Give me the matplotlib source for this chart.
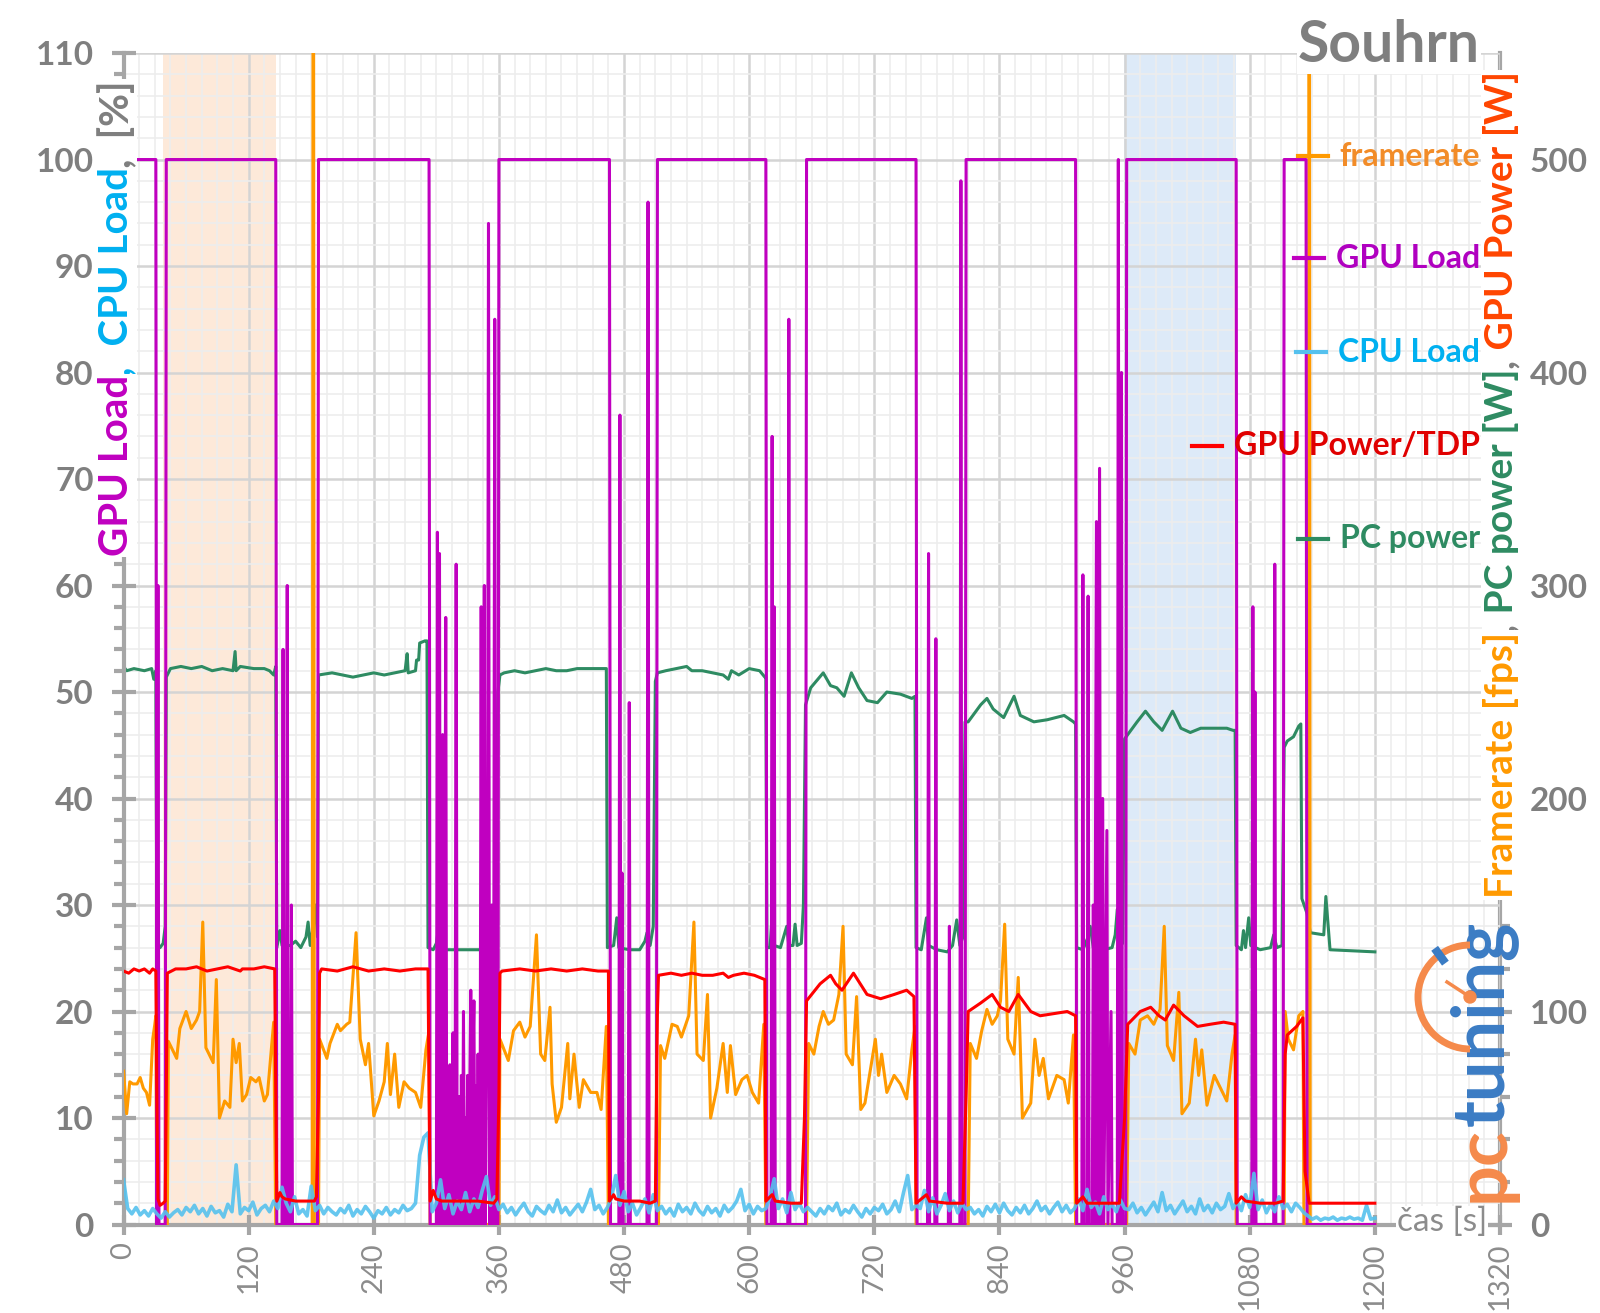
import numpy as np
import matplotlib
matplotlib.use("Agg")
import matplotlib.pyplot as plt
from matplotlib.ticker import MultipleLocator
from matplotlib.text import Annotation
from matplotlib.lines import Line2D
from matplotlib.patches import Arc, Circle

plt.rcParams['font.family'] = ['Lato', 'DejaVu Sans']

# ---------------------------------------------------------------- data
# GPU load [%]  (time [s], value)
gpu_load = [
    (0, 100), (31, 100), (32, 0), (33, 60), (34, 0), (40, 0), (41, 100),
    (146, 100), (147, 0), (152, 0), (153, 54), (154, 0), (156, 0), (157, 60), (158, 0),
    (160, 0), (161, 30), (162, 0), (186, 0), (187, 100),
    (293, 100), (294, 0), (300, 0), (301, 65), (302, 0), (303, 63), (304, 0), (305, 12), (306, 46),
    (307, 0), (308, 22), (309, 57), (310, 0), (311, 10), (312, 0), (313, 15), (314, 0), (315, 8),
    (316, 18), (317, 0), (318, 11), (319, 62), (320, 0), (321, 9), (322, 12), (323, 0), (324, 14),
    (325, 0), (326, 20), (327, 0), (328, 10), (329, 0), (330, 14), (331, 0), (332, 12), (333, 22),
    (334, 0), (335, 15), (336, 21), (337, 0), (338, 13), (339, 0), (340, 16), (341, 0), (342, 11),
    (343, 58), (344, 0), (345, 18), (346, 60), (347, 0), (348, 14), (349, 25), (350, 94), (351, 0),
    (352, 16), (353, 30), (354, 0), (355, 20), (356, 85), (357, 0), (359, 0), (360, 100),
    (466, 100), (467, 0), (475, 0), (476, 76), (477, 0), (478, 33), (479, 0), (484, 0), (485, 49),
    (486, 0), (502, 0), (503, 96), (504, 0), (511, 0), (512, 100),
    (616, 100), (617, 0), (621, 0), (622, 74), (623, 0), (624, 58), (625, 0), (637, 0), (638, 85),
    (639, 0), (654, 0), (655, 100),
    (760, 100), (761, 0), (771, 0), (772, 63), (773, 0), (778, 0), (779, 55), (780, 0), (791, 0),
    (792, 28), (793, 0), (802, 0), (803, 98), (804, 0), (807, 0), (808, 100),
    (913, 100), (914, 0), (919, 0), (920, 61), (921, 0), (924, 0), (925, 59), (926, 0), (929, 0),
    (930, 30), (931, 0), (933, 66), (934, 0), (936, 71), (937, 0), (939, 40), (940, 0), (943, 37),
    (944, 0), (947, 20), (948, 0), (953, 0), (954, 100), (955, 0), (956, 0), (957, 80), (958, 0),
    (961, 0), (962, 100),
    (1067, 100), (1068, 0), (1082, 0), (1083, 58), (1084, 0), (1085, 50), (1086, 0), (1103, 0),
    (1104, 62), (1105, 0), (1112, 0), (1113, 100), (1134, 100), (1135, 0), (1200, 0),
]

# CPU load [%], one sample every 4 s from 0 to 1200 s
cpu_step = 4
cpu_load = [
    4.2, 1.5, 1.0, 1.6, 0.9, 1.3, 0.8, 1.5, 1.0, 0.6,
    1.2, 0.7, 1.1, 1.4, 0.9, 1.6, 1.2, 1.8, 1.0, 1.5,
    0.8, 1.7, 1.1, 1.3, 0.7, 1.9, 1.2, 5.6, 1.0, 1.6,
    1.3, 2.1, 0.9, 1.5, 1.8, 1.2, 2.2, 1.5, 3.5, 2.0,
    1.2, 2.6, 1.0, 1.4, 0.8, 3.6, 1.3, 1.8, 1.0, 1.6,
    1.2, 0.9, 1.5, 1.1, 1.8, 0.8, 1.4, 1.0, 1.7, 1.2,
    0.6, 1.3, 1.0, 1.6, 0.9, 1.4, 1.1, 1.8, 1.3, 1.5,
    2.0, 6.5, 8.2, 8.6, 1.2, 2.0, 4.2, 1.5, 2.8, 1.0,
    2.2, 1.4, 3.0, 1.2, 2.4, 1.6, 3.2, 4.5, 1.8, 2.6,
    1.4, 1.9, 1.1, 1.6, 0.9, 1.5, 2.0, 1.2, 0.8, 1.7,
    1.3, 1.0, 1.8, 1.2, 2.3, 1.1, 1.6, 0.9, 1.4, 1.9,
    1.2, 2.1, 3.3, 1.4, 1.8, 1.0, 1.6, 2.5, 4.6, 1.8,
    3.1, 1.2, 2.0, 0.9, 1.6, 2.4, 1.1, 2.8, 1.3, 1.7,
    1.0, 1.5, 0.8, 1.9, 1.2, 1.6, 1.0, 2.0, 1.3, 0.9,
    1.7, 1.1, 1.5, 0.8, 1.8, 1.2, 1.6, 2.2, 3.3, 1.3,
    1.9, 1.0, 1.7, 1.3, 1.5, 2.6, 4.3, 1.5, 2.4, 1.1,
    3.0, 1.4, 2.0, 1.2, 1.6, 1.2, 0.8, 1.5, 1.0, 1.7,
    1.3, 2.0, 0.9, 1.4, 1.1, 1.8, 1.2, 0.7, 1.5, 1.0,
    1.6, 1.3, 1.9, 1.0, 1.4, 2.2, 1.2, 3.0, 4.6, 1.4,
    1.8, 1.5, 3.2, 1.2, 2.5, 1.0, 1.8, 2.9, 1.3, 2.2,
    1.1, 2.0, 1.4, 1.6, 1.0, 1.4, 0.8, 1.7, 1.2, 1.9,
    1.1, 2.0, 1.3, 0.9, 1.6, 1.1, 1.8, 1.0, 1.5, 2.2,
    1.3, 1.7, 1.0, 1.6, 2.1, 1.2, 1.8, 1.1, 1.5, 2.4,
    1.3, 3.3, 1.6, 2.1, 1.0, 2.6, 1.4, 1.9, 1.2, 2.3,
    1.5, 1.4, 2.0, 1.1, 1.6, 0.9, 1.5, 2.1, 1.2, 3.0,
    1.3, 1.8, 1.0, 1.6, 2.2, 1.2, 1.7, 1.0, 2.4, 1.3,
    1.8, 1.1, 2.0, 1.4, 1.7, 2.9, 1.5, 2.2, 1.3, 2.8,
    1.6, 4.8, 1.4, 2.3, 1.1, 1.9, 1.2, 2.6, 1.5, 1.9,
    1.2, 2.0, 1.6, 1.1, 0.8, 0.5, 0.7, 0.4, 0.6, 0.5,
    0.7, 0.4, 0.6, 0.5, 0.7, 0.5, 0.6, 0.4, 1.8, 0.5,
    0.6,
]

# GPU power [W]
gpu_power = [
    (0, 119), (5, 118), (10, 120), (15, 119), (20, 120), (25, 118), (28, 120), (31, 119),
    (32, 60), (33, 12), (35, 9), (38, 10), (40, 11), (41, 60), (42, 118),
    (50, 120), (60, 120), (70, 121), (80, 119), (90, 120), (100, 121), (112, 119), (114, 120),
    (125, 120), (135, 121), (145, 120), (146, 60), (147, 11),
    (150, 15), (152, 13), (155, 12), (165, 11), (175, 11), (183, 11), (185, 13), (187, 60), (188, 118),
    (190, 120), (205, 119), (220, 121), (235, 119), (250, 120), (265, 119), (280, 120), (292, 120),
    (293, 60), (294, 11),
    (297, 16), (300, 12), (305, 11), (320, 11), (340, 11), (355, 10), (358, 12), (360, 60), (361, 118),
    (363, 119), (380, 120), (395, 119), (410, 120), (425, 119), (440, 120), (455, 119), (465, 119),
    (466, 11),
    (470, 14), (472, 12), (480, 11), (495, 11), (505, 10), (510, 11), (512, 100), (513, 117),
    (525, 118), (535, 117), (545, 118), (555, 117), (565, 117), (575, 118), (580, 116), (585, 117),
    (595, 118), (605, 117), (615, 115), (616, 11),
    (622, 14), (625, 11), (640, 10), (650, 10), (653, 50), (655, 105),
    (668, 113), (678, 117), (683, 113), (689, 110), (700, 118), (713, 108), (726, 106), (739, 108),
    (751, 110), (758, 107), (760, 10),
    (770, 14), (773, 11), (790, 10), (805, 10), (808, 60), (810, 100),
    (822, 104), (833, 108), (841, 102), (849, 100), (858, 108), (870, 100), (879, 98), (892, 99),
    (905, 100), (913, 98), (914, 10),
    (920, 13), (924, 10), (940, 10), (955, 10), (960, 50), (963, 94),
    (975, 100), (985, 102), (993, 98), (999, 96), (1007, 103), (1017, 98), (1030, 93), (1042, 94),
    (1055, 95), (1066, 94), (1067, 10),
    (1072, 13), (1076, 11), (1090, 10), (1105, 10), (1112, 11), (1114, 80), (1116, 89),
    (1125, 93), (1131, 97), (1133, 25), (1137, 10), (1200, 10),
]

# PC power [W]
pc_power = [
    (0, 262), (3, 260), (10, 261), (20, 260), (27, 261), (29, 256), (31, 260), (32, 130), (35, 130),
    (38, 132), (40, 140), (41, 257),
    (45, 261), (55, 262), (65, 261), (75, 262), (85, 260), (95, 261), (105, 260), (107, 269),
    (108, 260), (112, 262), (125, 261), (135, 261), (140, 260), (144, 258), (146, 262), (147, 130),
    (150, 138), (152, 131), (160, 131), (165, 133), (170, 130), (175, 135), (177, 142), (179, 131),
    (182, 140), (184, 150), (186, 135), (187, 258),
    (200, 259), (210, 258), (220, 257), (230, 258), (240, 259), (250, 258), (260, 259), (270, 260),
    (272, 268), (273, 259), (280, 260), (281, 265), (283, 265), (284, 273), (289, 274), (291, 274),
    (292, 130),
    (297, 129), (300, 132), (302, 139), (304, 131), (310, 129), (330, 129), (345, 129), (349, 132),
    (351, 137), (353, 131), (356, 133), (359, 250), (361, 258),
    (365, 259), (375, 260), (385, 259), (395, 260), (405, 261), (415, 260), (425, 260), (435, 261),
    (445, 261), (455, 261), (463, 261), (464, 130),
    (470, 131), (473, 144), (475, 130), (485, 129), (495, 129), (500, 133), (502, 137), (505, 131),
    (508, 140), (510, 255), (512, 259),
    (520, 260), (530, 261), (540, 262), (545, 260), (555, 260), (565, 259), (575, 258), (580, 256),
    (583, 260), (590, 258), (600, 261), (610, 260), (615, 257), (616, 257), (617, 130),
    (620, 130), (622, 145), (624, 131), (630, 130), (636, 140), (638, 131), (642, 131), (644, 141),
    (646, 131), (650, 132), (652, 150), (654, 244),
    (659, 252), (671, 259), (678, 253), (684, 252), (691, 248), (698, 259), (705, 252), (713, 246),
    (723, 245), (732, 250), (745, 249), (756, 247), (759, 248), (760, 130),
    (765, 129), (770, 144), (772, 131), (780, 129), (790, 128), (795, 131), (799, 143), (802, 131),
    (805, 135), (807, 236),
    (810, 236), (822, 244), (828, 247), (834, 242), (844, 238), (854, 248), (860, 239), (873, 236),
    (886, 237), (902, 239), (911, 236), (913, 235), (914, 130),
    (920, 129), (925, 135), (927, 140), (930, 130), (940, 129), (948, 130), (951, 136), (953, 148),
    (955, 130), (958, 132), (960, 228),
    (966, 232), (972, 236), (980, 241), (988, 236), (996, 232), (1006, 241), (1014, 233), (1023, 231),
    (1033, 233), (1046, 233), (1058, 233), (1064, 232), (1066, 232), (1067, 131),
    (1072, 129), (1074, 138), (1076, 130), (1079, 144), (1081, 131), (1090, 129), (1100, 130),
    (1103, 136), (1106, 130), (1111, 131), (1113, 224),
    (1116, 227), (1122, 229), (1127, 234), (1129, 235), (1130, 153), (1135, 146), (1138, 137),
    (1151, 136), (1153, 154), (1157, 129), (1200, 128),
]

# framerate [fps]
framerate = [
    (0, 72), (3, 52), (6, 67), (9, 66), (13, 66), (16, 69), (19, 64), (22, 62), (25, 56), (28, 87),
    (30, 94), (31, 98), (32, 0), (42, 0),
    (43, 86), (51, 78), (54, 92), (60, 100), (65, 92), (70, 96), (73, 100), (76, 142), (79, 83),
    (86, 76), (89, 115), (92, 50), (97, 58), (102, 55), (105, 87), (108, 76), (111, 85), (114, 58),
    (118, 61), (122, 69), (127, 67), (130, 69), (135, 58), (138, 61), (142, 84), (144, 95), (146, 0),
    (181, 0), (182, 800), (183, 0), (187, 0),
    (188, 87), (195, 78), (198, 85), (205, 94), (208, 91), (214, 94), (217, 95), (223, 137), (227, 87),
    (232, 75), (235, 85), (240, 51), (245, 58), (250, 67), (253, 85), (256, 61), (260, 80), (264, 55),
    (269, 67), (274, 64), (280, 62), (285, 55), (290, 82), (293, 91), (294, 0), (360, 0),
    (361, 87), (369, 77), (374, 91), (380, 95), (385, 88), (390, 93), (396, 136), (400, 80), (404, 77),
    (409, 102), (411, 66), (415, 48), (420, 55), (426, 85), (428, 59), (432, 80), (437, 55), (441, 68),
    (448, 62), (454, 62), (458, 54), (463, 93), (465, 0), (513, 0),
    (515, 84), (519, 78), (526, 94), (531, 93), (535, 88), (542, 98), (547, 142), (550, 80), (556, 77),
    (560, 108), (563, 50), (569, 64), (575, 85), (579, 62), (582, 84), (587, 61), (593, 68), (598, 70),
    (603, 62), (609, 57), (614, 94), (616, 0), (655, 0),
    (657, 85), (662, 80), (667, 93), (671, 100), (676, 94), (681, 96), (686, 108), (690, 140), (693, 80),
    (699, 75), (703, 107), (707, 54), (711, 57), (721, 87), (724, 70), (727, 80), (732, 62), (739, 70),
    (745, 66), (751, 59), (756, 82), (759, 93), (760, 0), (810, 0),
    (812, 85), (818, 78), (823, 91), (828, 101), (833, 94), (838, 98), (841, 105), (845, 141), (848, 87),
    (854, 80), (858, 116), (862, 50), (870, 57), (874, 87), (878, 70), (882, 78), (887, 59), (895, 70),
    (902, 68), (906, 57), (911, 89), (913, 0), (962, 0),
    (964, 85), (970, 80), (975, 96), (982, 98), (988, 94), (994, 101), (998, 140), (1001, 84),
    (1007, 77), (1012, 109), (1015, 52), (1022, 57), (1028, 87), (1031, 70), (1034, 82), (1039, 56),
    (1046, 70), (1052, 64), (1058, 58), (1063, 80), (1066, 89), (1067, 0), (1113, 0),
    (1114, 100), (1117, 87), (1122, 82), (1127, 98), (1131, 100), (1132, 0), (1136, 0), (1137, 800),
    (1138, 0), (1200, 0),
]

# highlighted time ranges [s]
orange_span = (38, 146)
blue_span = (959, 1067)

x_major = list(range(0, 1321, 120))
left_ticks = list(range(0, 111, 10))
right_ticks = list(range(0, 501, 100))

# ---------------------------------------------------------------- colours
GRAY = '#7f7f7f'
AXIS = '#a6a6a6'
C_GPU = '#c000c0'
C_CPU = '#55c1ee'
C_GPUPOW = '#ff0000'
C_PC = '#2e8b62'
C_FPS = '#ff9a00'

W = 5.0  # right axis = left axis * 5

fig = plt.figure(figsize=(16, 13.13), dpi=100)
ax = fig.add_axes([0.0772, 0.0674, 0.8603, 0.8922])
ax.set_xlim(0, 1320)
ax.set_ylim(0, 110)

ax.axvspan(*orange_span, color='#fde9d9', lw=0, zorder=0.5)
ax.axvspan(*blue_span, color='#ddeaf8', lw=0, zorder=0.5)

ax.set_xticks(x_major)
ax.xaxis.set_minor_locator(MultipleLocator(15))
ax.set_yticks(left_ticks)
ax.yaxis.set_minor_locator(MultipleLocator(2))
ax.grid(which='minor', color='#ededed', lw=1.2)
ax.grid(which='major', color='#d4d4d4', lw=1.8)
ax.set_axisbelow(True)

for s in ['top', 'right']:
    ax.spines[s].set_visible(False)
for s in ['left', 'bottom']:
    ax.spines[s].set_color(AXIS)
    ax.spines[s].set_linewidth(3)

ax.tick_params(axis='y', which='major', direction='inout', length=17, width=3, color=AXIS,
               labelsize=24, labelcolor=GRAY, pad=13)
ax.tick_params(axis='y', which='minor', direction='out', length=7, width=3, color=AXIS)
ax.tick_params(axis='x', which='major', direction='inout', length=14, width=3, color=AXIS,
               labelsize=21, labelcolor='#8c8c8c', pad=6, labelrotation=90)
ax.tick_params(axis='x', which='minor', length=0)
for lbl in ax.get_yticklabels():
    lbl.set_fontweight('bold')

sec = ax.secondary_yaxis('right', functions=(lambda v: v * W, lambda w: w / W))
sec.set_yticks(right_ticks)
sec.yaxis.set_minor_locator(MultipleLocator(20))
sec.spines['right'].set_color(AXIS)
sec.spines['right'].set_linewidth(3)
sec.tick_params(which='major', direction='inout', length=17, width=3, color=AXIS,
                labelsize=24, labelcolor=GRAY, pad=13)
sec.tick_params(which='minor', direction='out', length=7, width=3, color=AXIS)
for lbl in sec.get_yticklabels():
    lbl.set_fontweight('bold')

# ---------------------------------------------------------------- series
pc_t, pc_v = zip(*pc_power)
ax.plot(pc_t, np.array(pc_v) / W, color=C_PC, lw=2.2, zorder=2)

fr_t, fr_v = zip(*framerate)
ax.plot(fr_t, np.array(fr_v) / W, color=C_FPS, lw=2.2, zorder=3)

g_t, g_v = zip(*gpu_load)
ax.plot(g_t, g_v, color=C_GPU, lw=2.2, zorder=4)

cpu_t = np.arange(len(cpu_load)) * cpu_step
ax.plot(cpu_t, cpu_load, color=C_CPU, lw=2.6, alpha=0.9, zorder=5)

gp_t, gp_v = zip(*gpu_power)
ax.plot(gp_t, np.array(gp_v) / W, color=C_GPUPOW, lw=2.2, zorder=6)

# ---------------------------------------------------------------- texts
white = dict(facecolor='white', edgecolor='none', pad=1.0)


def stacked_label(x, y, parts, size):
    # rotated label built from coloured pieces, bottom to top
    txt, col = parts[0]
    prev = fig.text(x, y, txt, color=col, rotation=90, ha='center', va='bottom',
                    fontsize=size, fontweight='bold', bbox=white, zorder=10)
    for txt, col in parts[1:]:
        ann = Annotation(txt, xy=(0.5, 1.0), xycoords=prev, ha='center', va='bottom',
                         rotation=90, color=col, fontsize=size, fontweight='bold',
                         bbox=white, zorder=10)
        fig.add_artist(ann)
        prev = ann


stacked_label(117 / 1600, 1 - 556 / 1313,
              [('GPU Load', C_GPU), (',', '#00b0f0'), ('  CPU Load', '#00b0f0'),
               (',', GRAY), ('  [%]', GRAY)], 29)
stacked_label(1501 / 1600, 1 - 898 / 1313,
              [('Framerate [fps]', '#ff9900'), (',', GRAY), (' PC power [W]', C_PC),
               (',', GRAY), (' GPU Power [W]', '#ff4500')], 28)

fig.text(1389 / 1600, 1 - 46 / 1313, 'Souhrn', ha='center', va='center', fontsize=41,
         fontweight='bold', color=GRAY, bbox=white, zorder=10)
fig.text(1442 / 1600, 1 - 1222 / 1313, 'čas [s]', ha='center', va='center', fontsize=24,
         color='#8c8c8c', bbox=white, zorder=10)

legend_items = [
    ('framerate', '#f28c28', C_FPS, 156),
    ('GPU Load', '#b000c0', C_GPU, 258),
    ('CPU Load', '#00b0f0', C_CPU, 352),
    ('GPU Power/TDP', '#e00000', C_GPUPOW, 446),
    ('PC power', C_PC, C_PC, 539),
]
leg_texts = []
for label, tcol, lcol, ypx in legend_items:
    t = fig.text(1480 / 1600, 1 - ypx / 1313, label, ha='right', va='center', fontsize=23,
                 fontweight='bold', color=tcol, zorder=10)
    leg_texts.append((t, lcol, ypx))

# pctuning logo
fig.text(1483 / 1600, 1 - 1202 / 1313, 'pc', rotation=90, ha='center', va='bottom',
         fontsize=52, fontweight='bold', color='#f58a4b', zorder=9)
logo2 = Annotation('tuning', xy=(0.5, 1.0), xycoords=fig.texts[-1], ha='center',
                   va='bottom', rotation=90, fontsize=52, fontweight='bold',
                   color='#3b7cc4', zorder=9)
fig.add_artist(logo2)
cx, cy = 14.70, 3.16
arc = Arc((cx, cy), 1.04, 1.04, theta1=90, theta2=270, transform=fig.dpi_scale_trans,
          color='#f58a4b', lw=5, zorder=9)
fig.add_artist(arc)
fig.add_artist(Line2D([cx, cx - 0.23], [cy, cy + 0.15], transform=fig.dpi_scale_trans,
                      color='#f58a4b', lw=2.5, zorder=9))
fig.add_artist(Circle((cx, cy), 0.06, transform=fig.dpi_scale_trans,
                      color='#f58a4b', zorder=9))
ang = np.deg2rad(126)
fig.add_artist(Line2D([cx + 0.46 * np.cos(ang), cx + 0.56 * np.cos(ang)],
                      [cy + 0.46 * np.sin(ang), cy + 0.56 * np.sin(ang)],
                      transform=fig.dpi_scale_trans, color='#3b7cc4', lw=6, zorder=9))

# legend handles placed just left of each label
fig.canvas.draw()
for t, lcol, ypx in leg_texts:
    bb = t.get_window_extent()
    x1 = bb.x0 - 12
    y = (1313 - ypx)
    fig.add_artist(Line2D([(x1 - 30) / 1600, x1 / 1600], [y / 1313, y / 1313],
                          transform=fig.transFigure, color=lcol, lw=3, zorder=10))

fig.savefig('out.png', dpi=100, facecolor='white')
